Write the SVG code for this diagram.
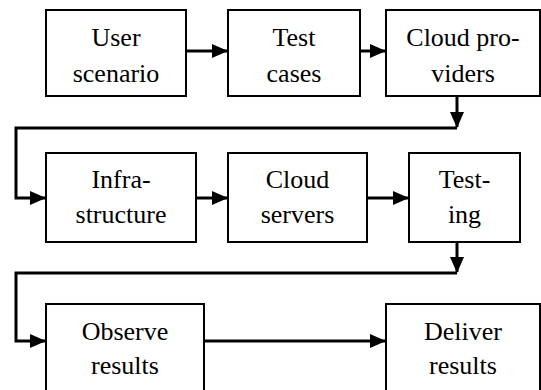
<svg xmlns="http://www.w3.org/2000/svg" width="541" height="390" viewBox="0 0 541 390">
<style>
.box{fill:#fff;stroke:#000;stroke-width:2}
.lbl{font-family:'Liberation Serif','Times New Roman',serif;font-size:26px;fill:#000;text-anchor:middle}
.con{fill:none;stroke:#000;stroke-width:3}
</style>
<defs>
<marker id="ah" markerUnits="userSpaceOnUse" markerWidth="16" markerHeight="14" refX="15" refY="7" orient="auto">
<path d="M0,0 L16,7 L0,14 z" fill="#000"/>
</marker>
</defs>
<rect width="541" height="390" fill="#fff"/>
<g id="connectors">
<path class="con" d="M186,51 H227" marker-end="url(#ah)"/>
<path class="con" d="M360,51 H385" marker-end="url(#ah)"/>
<path class="con" d="M457,96 V127" marker-end="url(#ah)"/>
<path class="con" d="M457,128 H16 V198 H45" marker-end="url(#ah)"/>
<path class="con" d="M196,198 H227" marker-end="url(#ah)"/>
<path class="con" d="M367,198 H408" marker-end="url(#ah)"/>
<path class="con" d="M457,242 V272" marker-end="url(#ah)"/>
<path class="con" d="M457,273 H16 V341 H45" marker-end="url(#ah)"/>
<path class="con" d="M204,341 H385" marker-end="url(#ah)"/>
</g>
<g id="n1"><rect class="box" x="46" y="10" width="140" height="86"/><text class="lbl" x="116" y="46">User</text><text class="lbl" x="116" y="82">scenario</text></g>
<g id="n2"><rect class="box" x="228" y="10" width="132" height="86"/><text class="lbl" x="294" y="46">Test</text><text class="lbl" x="294" y="82">cases</text></g>
<g id="n3"><rect class="box" x="386" y="10" width="154" height="86"/><text class="lbl" x="463" y="46">Cloud pro-</text><text class="lbl" x="463" y="82">viders</text></g>
<g id="n4"><rect class="box" x="46" y="153" width="150" height="89"/><text class="lbl" x="121" y="188">Infra-</text><text class="lbl" x="121" y="223">structure</text></g>
<g id="n5"><rect class="box" x="228" y="153" width="139" height="89"/><text class="lbl" x="297.5" y="188">Cloud</text><text class="lbl" x="297.5" y="223">servers</text></g>
<g id="n6"><rect class="box" x="409" y="153" width="111" height="89"/><text class="lbl" x="464.5" y="188">Test-</text><text class="lbl" x="464.5" y="223">ing</text></g>
<g id="n7"><rect class="box" x="46" y="304" width="158" height="96"/><text class="lbl" x="125" y="340">Observe</text><text class="lbl" x="125" y="374">results</text></g>
<g id="n8"><rect class="box" x="386" y="304" width="154" height="96"/><text class="lbl" x="463" y="340">Deliver</text><text class="lbl" x="463" y="374">results</text></g>
</svg>
